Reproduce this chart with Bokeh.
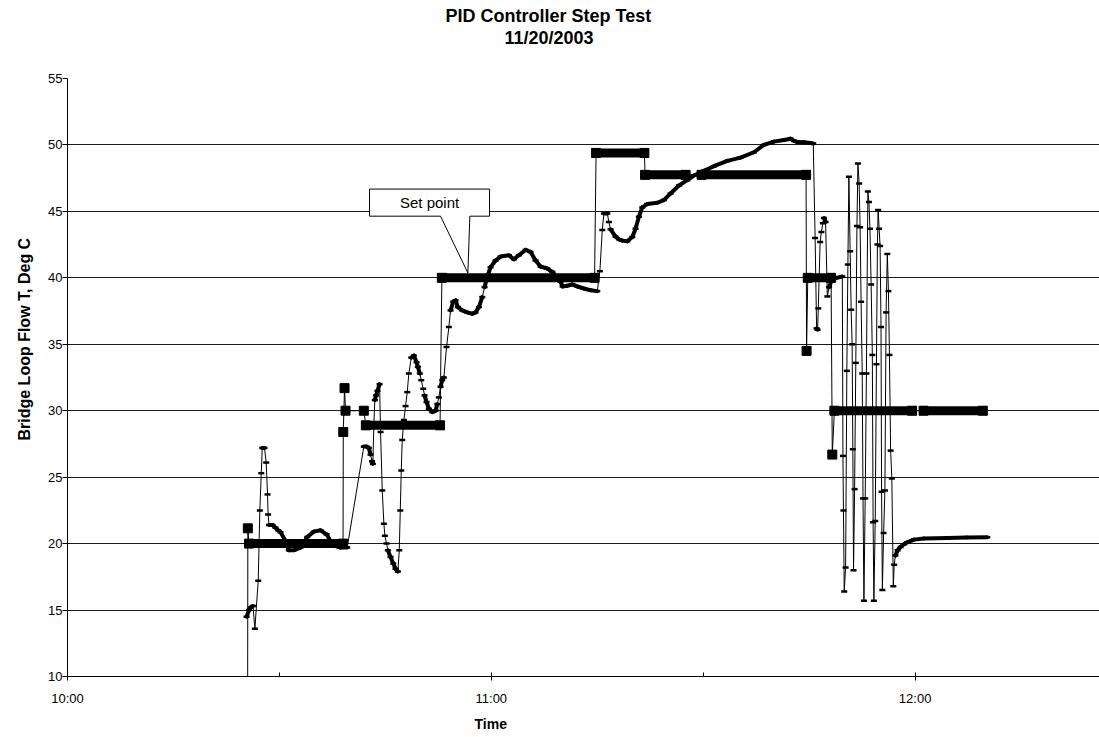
from bokeh.plotting import figure
from bokeh.models import FixedTicker, Range1d, Title
from bokeh.embed import file_html
from bokeh.resources import INLINE
from bokeh.core.properties import value

# ---------------------------------------------------------------------------
# Logged data, time in minutes after 10:00
# ---------------------------------------------------------------------------
temp_min = [
    25.35, 25.70, 25.94, 26.26, 26.53, 27.00, 27.23, 27.43, 27.57, 27.89,
    28.13, 28.32, 28.40, 28.53, 29.03, 29.45, 29.83, 30.16, 30.87, 31.33,
    32.04, 32.99, 33.94, 34.87, 35.82, 36.67, 37.24, 37.71, 38.65, 39.60,
    41.95, 42.34, 42.66, 42.90, 43.11, 43.23, 43.37, 43.51, 43.68, 43.89,
    44.18, 44.32, 44.56, 44.79, 44.93, 45.17, 45.35, 45.73, 46.12, 46.44,
    46.77, 46.97, 47.11, 47.25, 47.39, 47.62, 47.86, 48.10, 48.32, 48.67,
    49.03, 49.42, 49.60, 49.88, 50.08, 50.36, 50.55, 50.83, 51.16, 51.64,
    52.11, 52.35, 52.57, 52.81, 53.05, 53.28, 53.66, 53.99, 54.23, 54.61,
    54.94, 55.26, 55.89, 56.59, 57.30, 57.77, 58.24, 58.72, 59.04, 59.43,
    59.89, 60.60, 61.31, 62.48, 63.19, 63.90, 64.85, 65.56, 66.26, 66.97,
    67.92, 68.63, 69.24, 69.80, 70.09, 70.75, 71.46, 72.17, 73.10, 74.05,
    75.00, 75.37, 75.71, 75.94, 76.42, 76.64, 76.88, 77.59, 78.06, 78.54,
    79.25, 79.96, 80.42, 80.89, 81.37, 82.08, 83.50, 84.43, 85.38, 86.56,
    87.74, 88.68, 90.09, 91.51, 93.41, 95.29, 97.17, 98.59, 100.01, 101.42,
    102.37, 102.84, 103.32, 104.25, 105.20, 105.58, 105.84, 106.05, 106.19, 106.29,
    106.55, 106.72, 106.94, 107.09, 107.32, 107.57, 107.82, 108.17, 108.88, 109.69,
    109.78, 109.85, 109.96, 110.16, 110.33, 110.48, 110.62, 110.80, 110.94, 111.08,
    111.18, 111.28, 111.43, 111.60, 111.76, 111.90, 112.07, 112.21, 112.35, 112.51,
    112.62, 112.75, 112.93, 113.10, 113.31, 113.46, 113.60, 113.77, 113.94, 114.05,
    114.16, 114.35, 114.52, 114.66, 114.76, 114.90, 115.04, 115.17, 115.25, 115.36,
    115.54, 115.72, 115.89, 116.06, 116.22, 116.36, 116.53, 116.70, 116.91, 117.03,
    117.21, 117.52, 117.94, 118.41, 118.89, 119.83, 121.24, 124.56, 127.29, 130.22,
]
temp_degc = [
    14.5, 15.0, 15.2, 15.3, 13.6, 17.2, 22.5, 25.3, 27.2, 27.2,
    26.1, 23.7, 22.2, 21.4, 21.4, 21.2, 21.0, 20.85, 20.2, 19.5,
    19.5, 19.7, 20.5, 20.9, 21.0, 20.7, 20.2, 19.85, 19.7, 19.7,
    27.3, 27.3, 27.2, 26.7, 26.2, 26.0, 29.0, 30.8, 31.15, 31.5,
    32.0, 28.4, 24.0, 21.5, 20.6, 20.0, 19.5, 19.0, 18.5, 18.1,
    17.9, 19.5, 22.5, 25.5, 27.8, 29.3, 30.35, 31.4, 32.8, 34.0,
    34.15, 33.65, 33.3, 32.8, 32.3, 31.65, 31.15, 30.65, 30.15, 29.9,
    30.0, 30.5, 31.0, 31.8, 32.3, 32.5, 34.8, 36.3, 37.55, 38.2,
    38.3, 37.8, 37.55, 37.4, 37.3, 37.4, 37.8, 38.55, 39.3, 40.07,
    40.8, 41.3, 41.6, 41.7, 41.4, 41.7, 42.1, 41.95, 41.3, 40.85,
    40.7, 40.45, 40.1, 39.7, 39.35, 39.4, 39.5, 39.35, 39.2, 39.07,
    39.0, 40.5, 43.6, 44.85, 44.85, 44.2, 43.65, 43.1, 42.9, 42.8,
    42.75, 43.08, 43.7, 44.6, 45.3, 45.55, 45.65, 45.85, 46.35, 46.95,
    47.35, 47.7, 48.05, 48.4, 48.8, 49.05, 49.45, 50.0, 50.25, 50.37,
    50.47, 50.3, 50.22, 50.2, 50.15, 50.1, 43.0, 36.2, 36.1, 37.7,
    42.7, 43.45, 44.1, 44.5, 44.2, 38.6, 39.3, 39.8, 40.0, 40.1,
    26.6, 22.5, 16.4, 18.2, 33.0, 41.0, 47.6, 42.0, 37.6, 35.0,
    27.1, 18.0, 24.1, 33.6, 43.9, 48.6, 47.1, 43.8, 38.2, 32.8,
    23.4, 15.7, 23.4, 32.8, 46.5, 45.7, 43.7, 39.5, 34.2, 21.6,
    15.7, 21.7, 33.5, 42.5, 45.1, 43.7, 42.4, 36.3, 23.9, 16.5,
    20.8, 24.0, 37.4, 41.8, 39.0, 34.2, 27.0, 24.9, 16.8, 18.4,
    19.1, 19.5, 19.75, 19.95, 20.1, 20.3, 20.38, 20.43, 20.46, 20.48,
]

# Set point: every change point of the logged set point
sp_min = [25.49, 25.53, 25.70, 39.01, 39.04, 39.22, 39.36, 41.95, 42.24, 52.74,
          53.00, 74.62, 74.83, 81.67, 81.77, 87.50, 89.77, 104.56, 104.63, 104.80,
          108.10, 108.27, 108.57, 119.57, 121.20, 129.58]
sp_degc = [0.0, 21.15, 20.0, 20.0, 28.4, 31.7, 30.0, 30.0, 28.9, 28.9,
           40.0, 40.0, 49.4, 49.4, 47.75, 47.75, 47.75, 47.75, 34.5, 40.0,
           40.0, 26.7, 30.0, 30.0, 30.0, 30.0]

# Runs of continuously logged, constant set point samples
run_start = [25.70, 42.24, 53.00, 74.83, 81.77, 89.77, 104.80, 108.57, 121.20]
run_end = [39.01, 52.74, 74.62, 81.67, 87.50, 104.56, 108.10, 119.57, 129.58]
run_degc = [20.0, 28.9, 40.0, 49.4, 47.75, 47.75, 40.0, 30.0, 30.0]

x_ticks = [0, 60, 120]
x_tick_labels = ["10:00", "11:00", "12:00"]
x_minor_ticks = [30, 90]
y_ticks = [10, 15, 20, 25, 30, 35, 40, 45, 50, 55]

FONT = "Liberation Sans"
W, H = 1099, 737
LEFT, RIGHT, TOP, BOTTOM = 67, 0, 78, 61
X_END = 146.1

p = figure(width=W, height=H, output_backend="svg", toolbar_location=None,
           x_range=Range1d(0, X_END), y_range=Range1d(10, 55),
           min_border_left=LEFT, min_border_right=RIGHT,
           min_border_top=TOP, min_border_bottom=BOTTOM)
p.title = None
p.outline_line_color = None
p.background_fill_color = "white"
p.border_fill_color = "white"

# axes
p.xaxis.ticker = FixedTicker(ticks=x_ticks, minor_ticks=x_minor_ticks)
p.xaxis.major_label_overrides = dict(zip(x_ticks, x_tick_labels))
p.xaxis.major_tick_in = 4
p.xaxis.major_tick_out = 4
p.xaxis.minor_tick_in = 4
p.xaxis.minor_tick_out = 0
p.xaxis.major_label_standoff = 10

p.yaxis.ticker = FixedTicker(ticks=y_ticks, minor_ticks=[])
p.yaxis.major_tick_in = 0
p.yaxis.major_tick_out = 5
p.yaxis.major_label_standoff = 0

for ax in (p.xaxis, p.yaxis):
    ax.axis_line_color = "black"
    ax.major_tick_line_color = "black"
    ax.minor_tick_line_color = "black"
    ax.major_label_text_font = FONT
    ax.major_label_text_font_size = "13px"
    ax.major_label_text_color = "black"

p.xgrid.visible = False
p.ygrid.ticker = FixedTicker(ticks=y_ticks)
p.ygrid.grid_line_color = "#1a1a1a"
p.ygrid.grid_line_width = 1

# ---------------------------------------------------------------------------
# Titles: chart title (two lines) above, axis titles in the side panels
# ---------------------------------------------------------------------------
def bold_title(text, size, offset, standoff, valign="middle"):
    return Title(text=text, align="left", offset=offset, standoff=standoff,
                 vertical_align=valign, text_font=FONT, text_font_size=size,
                 text_font_style="bold", text_color="black")

# gap between the date line and the plot area
p.add_layout(Title(text=" ", text_font_size="1px", standoff=26.5), "above")
p.add_layout(bold_title("11/20/2003", "18px", 437, 0), "above")
p.add_layout(bold_title("PID Controller Step Test", "18px", 378, 0), "above")
p.add_layout(bold_title("Bridge Loop Flow T, Deg C", "16px", 236, 23), "left")
p.add_layout(bold_title("Time", "14px", 407, 10, "bottom"), "below")

# ---------------------------------------------------------------------------
# Temperature trace: thin connecting line, heavier where samples crowd together
# ---------------------------------------------------------------------------
px_per_min = (W - LEFT - RIGHT) / X_END
px_per_deg = (H - TOP - BOTTOM) / 45.0
seg_xs, seg_ys = [], []
for i in range(len(temp_min) - 1):
    dx = (temp_min[i + 1] - temp_min[i]) * px_per_min
    dy = (temp_degc[i + 1] - temp_degc[i]) * px_per_deg
    if abs(dy) <= 4.0 * abs(dx):
        seg_xs.append([temp_min[i], temp_min[i + 1]])
        seg_ys.append([temp_degc[i], temp_degc[i + 1]])

p.line(temp_min, temp_degc, line_color="black", line_width=1)
p.multi_line(seg_xs, seg_ys, line_color="black", line_width=4, line_cap="round",
             line_join="round")
p.scatter(temp_min, temp_degc, marker="dash", size=6, line_color="black",
          line_width=2.5)

# ---------------------------------------------------------------------------
# Set point: square markers joined by a thin line; runs form solid bars
# ---------------------------------------------------------------------------
p.line(sp_min, sp_degc, line_color="black", line_width=1)
p.segment(x0=run_start, y0=run_degc, x1=run_end, y1=run_degc,
          line_color="black", line_width=9, line_cap="square")
p.scatter(sp_min, sp_degc, marker="square", size=9, fill_color="black",
          line_color="black")

# ---------------------------------------------------------------------------
# Callout
# ---------------------------------------------------------------------------
box_l, box_r, box_t, box_b = 42.76, 59.75, 46.68, 44.64
tip_x, tip_y = 56.68, 40.37
base_l, base_r = 52.81, 56.96
p.patch([box_l, box_r, box_r, base_r, tip_x, base_l, box_l],
        [box_t, box_t, box_b, box_b, tip_y, box_b, box_b],
        fill_color="white", line_color="black", line_width=1)
p.text(x=[(box_l + box_r) / 2], y=[(box_t + box_b) / 2], text=["Set point"],
       text_font=value(FONT), text_font_size="15px", text_color="black",
       text_align="center", text_baseline="middle")

open("out.html", "w").write(file_html(p, INLINE))
